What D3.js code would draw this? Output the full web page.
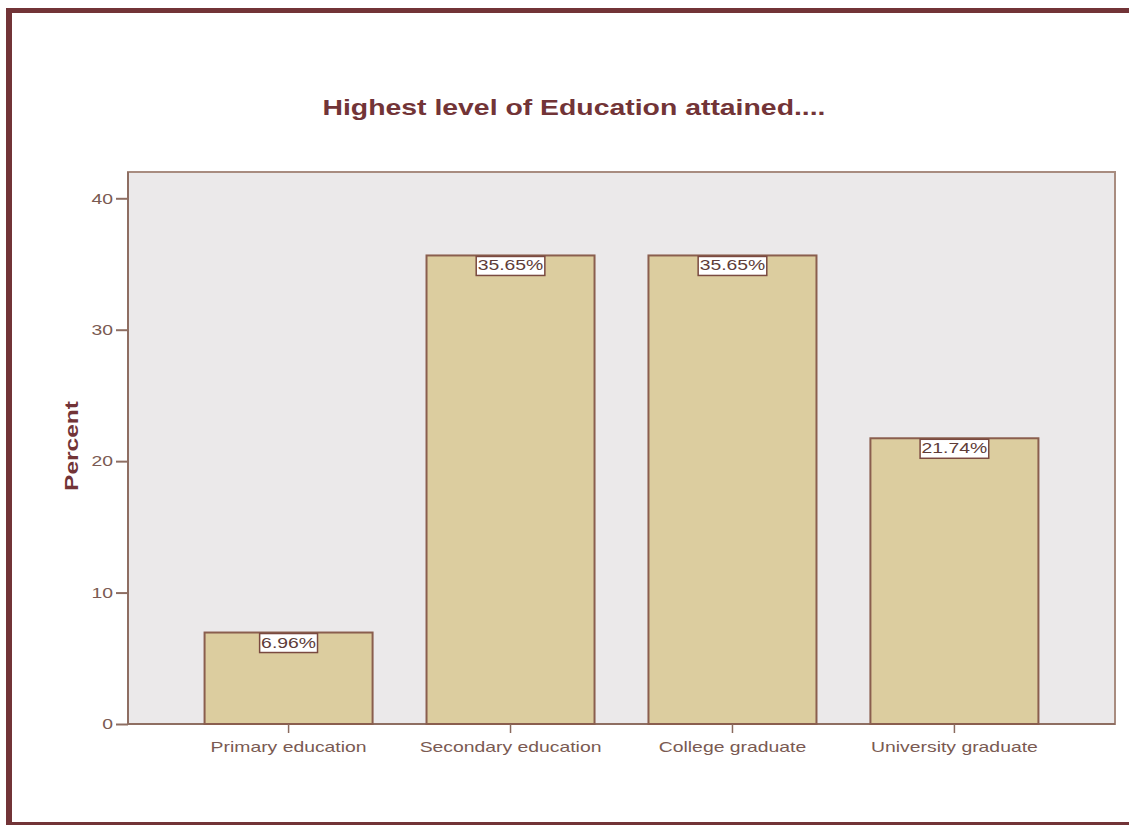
<!DOCTYPE html>
<html>
<head>
<meta charset="utf-8">
<script src="https://cdn.jsdelivr.net/npm/d3@7"></script>
<style>
  html, body { margin: 0; padding: 0; background: #ffffff; }
  svg { display: block; font-family: "Liberation Sans", Arial, sans-serif; }
</style>
</head>
<body>
<svg id="chart" width="1129" height="825"></svg>
<script>
// Education levels and their share of respondents (percent)
const categories = ["Primary education", "Secondary education", "College graduate", "University graduate"];
const percents = [6.96, 35.65, 35.65, 21.74];
const yTicks = [0, 10, 20, 30, 40];

const svg = d3.select("#chart");
const W = 1129, H = 825;
const frameColor = "#723437";
const textColor = "#7a5a52";
const STRETCH = 1.29; // wide glyph set: text is drawn horizontally stretched

// Widen a text selection along its baseline
function widen(sel) {
  sel.each(function () {
    const len = this.getComputedTextLength();
    d3.select(this)
      .attr("textLength", len * STRETCH)
      .attr("lengthAdjust", "spacingAndGlyphs");
  });
  return sel;
}

// Outer frame (left, top and bottom rules)
svg.append("rect").attr("x", 6).attr("y", 8).attr("width", 6).attr("height", 817).attr("fill", frameColor);
svg.append("rect").attr("x", 6).attr("y", 8).attr("width", W - 6).attr("height", 5).attr("fill", frameColor);
svg.append("rect").attr("x", 6).attr("y", 822).attr("width", W - 6).attr("height", 3).attr("fill", frameColor);

// Plot area
const plot = { left: 128, top: 172, right: 1115, bottom: 724 };

const y = d3.scaleLinear().domain([0, 42]).range([plot.bottom, plot.top]);
const x = d3.scaleBand()
  .domain(categories)
  .range([plot.left, plot.right])
  .paddingInner(0.243)
  .paddingOuter(0.345);

svg.append("rect")
  .attr("x", plot.left).attr("y", plot.top)
  .attr("width", plot.right - plot.left).attr("height", plot.bottom - plot.top)
  .attr("fill", "#ebe9ea")
  .attr("stroke", "#a88c80").attr("stroke-width", 2);

// Axis lines, slightly darker than the plot frame
svg.append("line")
  .attr("x1", plot.left).attr("x2", plot.left)
  .attr("y1", plot.top).attr("y2", plot.bottom)
  .attr("stroke", "#8e6e62").attr("stroke-width", 2);
svg.append("line")
  .attr("x1", plot.left).attr("x2", plot.right)
  .attr("y1", plot.bottom).attr("y2", plot.bottom)
  .attr("stroke", "#8e6e62").attr("stroke-width", 2);

// Title
svg.append("text")
  .attr("x", 574).attr("y", 115)
  .attr("text-anchor", "middle")
  .attr("font-size", 22).attr("font-weight", "bold")
  .attr("fill", frameColor)
  .text("Highest level of Education attained....")
  .call(widen);

// Bars
const bars = svg.append("g");
bars.selectAll("rect")
  .data(percents)
  .join("rect")
  .attr("x", (d, i) => x(categories[i]))
  .attr("y", d => y(d))
  .attr("width", x.bandwidth())
  .attr("height", d => y(0) - y(d))
  .attr("fill", "#dccd9f")
  .attr("stroke", "#8a5e4e")
  .attr("stroke-width", 2);

// Value labels in white boxes at the top of each bar
const labels = svg.append("g");
percents.forEach((d, i) => {
  const cx = x(categories[i]) + x.bandwidth() / 2;
  const top = y(d);
  const txt = d.toFixed(2) + "%";
  const g = labels.append("g");
  const t = g.append("text")
    .attr("x", cx).attr("y", top + 15)
    .attr("text-anchor", "middle")
    .attr("font-size", 15)
    .attr("fill", "#5e3c38")
    .text(txt);
  const w = t.node().getComputedTextLength() * STRETCH;
  t.call(widen);
  g.insert("rect", "text")
    .attr("x", cx - w / 2 - 1.5)
    .attr("y", top + 1)
    .attr("width", w + 3)
    .attr("height", 19)
    .attr("fill", "#ffffff")
    .attr("stroke", "#7a4a40")
    .attr("stroke-width", 1.5);
});

// Y axis
const yAxis = d3.axisLeft(y).tickValues(yTicks).tickSize(12).tickPadding(3);
const gy = svg.append("g").attr("transform", `translate(${plot.left},0)`).call(yAxis);
gy.select(".domain").remove();
gy.selectAll("line").attr("stroke", "#8e6e62").attr("stroke-width", 2);
gy.selectAll("text").attr("font-size", 15).attr("fill", textColor)
  .attr("font-family", "Liberation Sans, Arial, sans-serif").call(widen);

// X axis
const xAxis = d3.axisBottom(x).tickSize(9).tickPadding(8);
const gx = svg.append("g").attr("transform", `translate(0,${plot.bottom})`).call(xAxis);
gx.select(".domain").remove();
gx.selectAll("line").attr("stroke", "#8a6a5e").attr("stroke-width", 1.5);
gx.selectAll("text").attr("font-size", 15).attr("fill", textColor)
  .attr("font-family", "Liberation Sans, Arial, sans-serif").call(widen);

// Y axis title
svg.append("text")
  .attr("transform", `translate(78,${(plot.top + plot.bottom) / 2 - 2}) rotate(-90)`)
  .attr("text-anchor", "middle")
  .attr("font-size", 19).attr("font-weight", "bold")
  .attr("fill", frameColor)
  .text("Percent")
  .call(widen);
</script>
</body>
</html>
